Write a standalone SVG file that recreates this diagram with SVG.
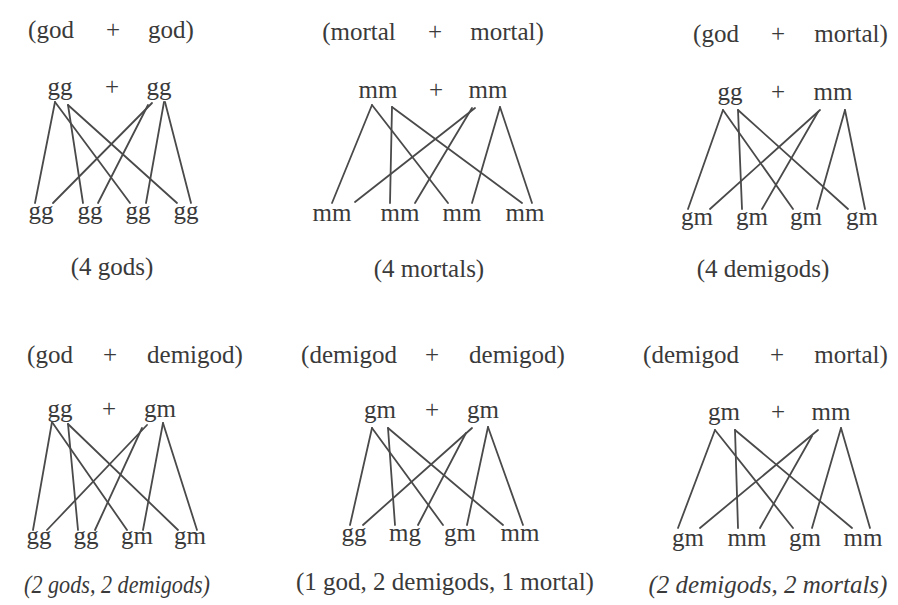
<svg xmlns="http://www.w3.org/2000/svg" width="898" height="605" viewBox="0 0 898 605">
<style>
text{font-family:"Liberation Serif","DejaVu Serif",serif;font-size:25px;fill:#3a3a3a;text-anchor:middle}
.it{font-style:italic}
.links line{stroke:#4a4a4a;stroke-width:1.8;stroke-linecap:round}
</style>
<rect width="898" height="605" fill="#ffffff"/>

<!-- Panel 1 -->
<g id="panel1">
  <g id="p1-title"><text x="51" y="38">(god</text><text x="113" y="38">+</text><text x="171" y="38">god)</text></g>
  <g id="p1-parent1"><text x="60" y="95">gg</text></g>
  <g id="p1-plus"><text x="112" y="95">+</text></g>
  <g id="p1-parent2"><text x="159" y="95">gg</text></g>
  <g id="p1-child1"><text x="41" y="219">gg</text></g>
  <g id="p1-child2"><text x="90" y="219">gg</text></g>
  <g id="p1-child3"><text x="138" y="219">gg</text></g>
  <g id="p1-child4"><text x="186" y="219">gg</text></g>
  <g id="p1-caption"><text x="112" y="275">(4 gods)</text></g>
  <g class="links" id="p1-links">
    <line x1="55" y1="102" x2="35" y2="203"/>
    <line x1="55" y1="102" x2="130" y2="203"/>
    <line x1="68" y1="105" x2="83" y2="203"/>
    <line x1="68" y1="105" x2="177" y2="203"/>
    <line x1="152" y1="103" x2="53" y2="203"/>
    <line x1="148" y1="105" x2="98" y2="203"/>
    <line x1="164" y1="102" x2="146" y2="203"/>
    <line x1="165" y1="102" x2="191" y2="203"/>
  </g>
</g>

<!-- Panel 2 -->
<g id="panel2">
  <g id="p2-title"><text x="359" y="40">(mortal</text><text x="435" y="40">+</text><text x="507" y="40">mortal)</text></g>
  <g id="p2-parent1"><text x="378" y="98">mm</text></g>
  <g id="p2-plus"><text x="436" y="98">+</text></g>
  <g id="p2-parent2"><text x="488" y="98">mm</text></g>
  <g id="p2-child1"><text x="332" y="221">mm</text></g>
  <g id="p2-child2"><text x="400" y="221">mm</text></g>
  <g id="p2-child3"><text x="462" y="221">mm</text></g>
  <g id="p2-child4"><text x="525" y="221">mm</text></g>
  <g id="p2-caption"><text x="429" y="277">(4 mortals)</text></g>
  <g class="links" id="p2-links">
    <line x1="372" y1="105" x2="332" y2="203"/>
    <line x1="372" y1="105" x2="448" y2="203"/>
    <line x1="392" y1="107" x2="390" y2="203"/>
    <line x1="392" y1="107" x2="522" y2="203"/>
    <line x1="475" y1="108" x2="355" y2="202"/>
    <line x1="472" y1="108" x2="415" y2="203"/>
    <line x1="500" y1="107" x2="472" y2="203"/>
    <line x1="500" y1="107" x2="532" y2="203"/>
  </g>
</g>

<!-- Panel 3 -->
<g id="panel3">
  <g id="p3-title"><text x="716" y="42">(god</text><text x="778" y="42">+</text><text x="851" y="42">mortal)</text></g>
  <g id="p3-parent1"><text x="730" y="100">gg</text></g>
  <g id="p3-plus"><text x="778" y="100">+</text></g>
  <g id="p3-parent2"><text x="833" y="100">mm</text></g>
  <g id="p3-child1"><text x="697" y="225">gm</text></g>
  <g id="p3-child2"><text x="752" y="225">gm</text></g>
  <g id="p3-child3"><text x="806" y="225">gm</text></g>
  <g id="p3-child4"><text x="862" y="225">gm</text></g>
  <g id="p3-caption"><text x="763" y="277">(4 demigods)</text></g>
  <g class="links" id="p3-links">
    <line x1="723" y1="110" x2="688" y2="209"/>
    <line x1="723" y1="110" x2="793" y2="209"/>
    <line x1="738" y1="110" x2="742" y2="209"/>
    <line x1="738" y1="110" x2="848" y2="209"/>
    <line x1="820" y1="110" x2="710" y2="209"/>
    <line x1="818" y1="112" x2="762" y2="209"/>
    <line x1="845" y1="110" x2="817" y2="209"/>
    <line x1="845" y1="110" x2="865" y2="209"/>
  </g>
</g>

<!-- Panel 4 -->
<g id="panel4">
  <g id="p4-title"><text x="50" y="363">(god</text><text x="110" y="363">+</text><text x="195" y="363">demigod)</text></g>
  <g id="p4-parent1"><text x="60" y="417">gg</text></g>
  <g id="p4-plus"><text x="109" y="417">+</text></g>
  <g id="p4-parent2"><text x="160" y="417">gm</text></g>
  <g id="p4-child1"><text x="39" y="544">gg</text></g>
  <g id="p4-child2"><text x="86" y="544">gg</text></g>
  <g id="p4-child3"><text x="137" y="544">gm</text></g>
  <g id="p4-child4"><text x="190" y="544">gm</text></g>
  <g id="p4-caption"><text class="it" x="117" y="593" textLength="186" lengthAdjust="spacingAndGlyphs">(2 gods, 2 demigods)</text></g>
  <g class="links" id="p4-links">
    <line x1="52" y1="422" x2="33" y2="530"/>
    <line x1="52" y1="422" x2="127" y2="530"/>
    <line x1="68" y1="424" x2="78" y2="530"/>
    <line x1="68" y1="424" x2="178" y2="530"/>
    <line x1="147" y1="425" x2="47" y2="530"/>
    <line x1="142" y1="428" x2="95" y2="530"/>
    <line x1="163" y1="423" x2="143" y2="530"/>
    <line x1="163" y1="423" x2="197" y2="530"/>
  </g>
</g>

<!-- Panel 5 -->
<g id="panel5">
  <g id="p5-title"><text x="349" y="363">(demigod</text><text x="432" y="363">+</text><text x="517" y="363">demigod)</text></g>
  <g id="p5-parent1"><text x="380" y="418">gm</text></g>
  <g id="p5-plus"><text x="432" y="418">+</text></g>
  <g id="p5-parent2"><text x="483" y="418">gm</text></g>
  <g id="p5-child1"><text x="354" y="541">gg</text></g>
  <g id="p5-child2"><text x="405" y="541">mg</text></g>
  <g id="p5-child3"><text x="460" y="541">gm</text></g>
  <g id="p5-child4"><text x="520" y="541">mm</text></g>
  <g id="p5-caption"><text x="445" y="590">(1 god, 2 demigods, 1 mortal)</text></g>
  <g class="links" id="p5-links">
    <line x1="372" y1="428" x2="350" y2="525"/>
    <line x1="372" y1="428" x2="443" y2="525"/>
    <line x1="388" y1="428" x2="395" y2="525"/>
    <line x1="388" y1="428" x2="503" y2="525"/>
    <line x1="472" y1="428" x2="363" y2="525"/>
    <line x1="466" y1="433" x2="418" y2="525"/>
    <line x1="488" y1="427" x2="467" y2="525"/>
    <line x1="488" y1="427" x2="523" y2="525"/>
  </g>
</g>

<!-- Panel 6 -->
<g id="panel6">
  <g id="p6-title"><text x="691" y="363">(demigod</text><text x="777" y="363">+</text><text x="851" y="363">mortal)</text></g>
  <g id="p6-parent1"><text x="724" y="420">gm</text></g>
  <g id="p6-plus"><text x="778" y="420">+</text></g>
  <g id="p6-parent2"><text x="831" y="420">mm</text></g>
  <g id="p6-child1"><text x="688" y="546">gm</text></g>
  <g id="p6-child2"><text x="747" y="546">mm</text></g>
  <g id="p6-child3"><text x="805" y="546">gm</text></g>
  <g id="p6-child4"><text x="863" y="546">mm</text></g>
  <g id="p6-caption"><text class="it" x="768" y="593">(2 demigods, 2 mortals)</text></g>
  <g class="links" id="p6-links">
    <line x1="715" y1="430" x2="678" y2="528"/>
    <line x1="715" y1="430" x2="793" y2="528"/>
    <line x1="735" y1="430" x2="738" y2="528"/>
    <line x1="735" y1="430" x2="852" y2="528"/>
    <line x1="818" y1="430" x2="700" y2="528"/>
    <line x1="812" y1="436" x2="760" y2="528"/>
    <line x1="841" y1="428" x2="812" y2="528"/>
    <line x1="841" y1="428" x2="870" y2="528"/>
  </g>
</g>
</svg>
